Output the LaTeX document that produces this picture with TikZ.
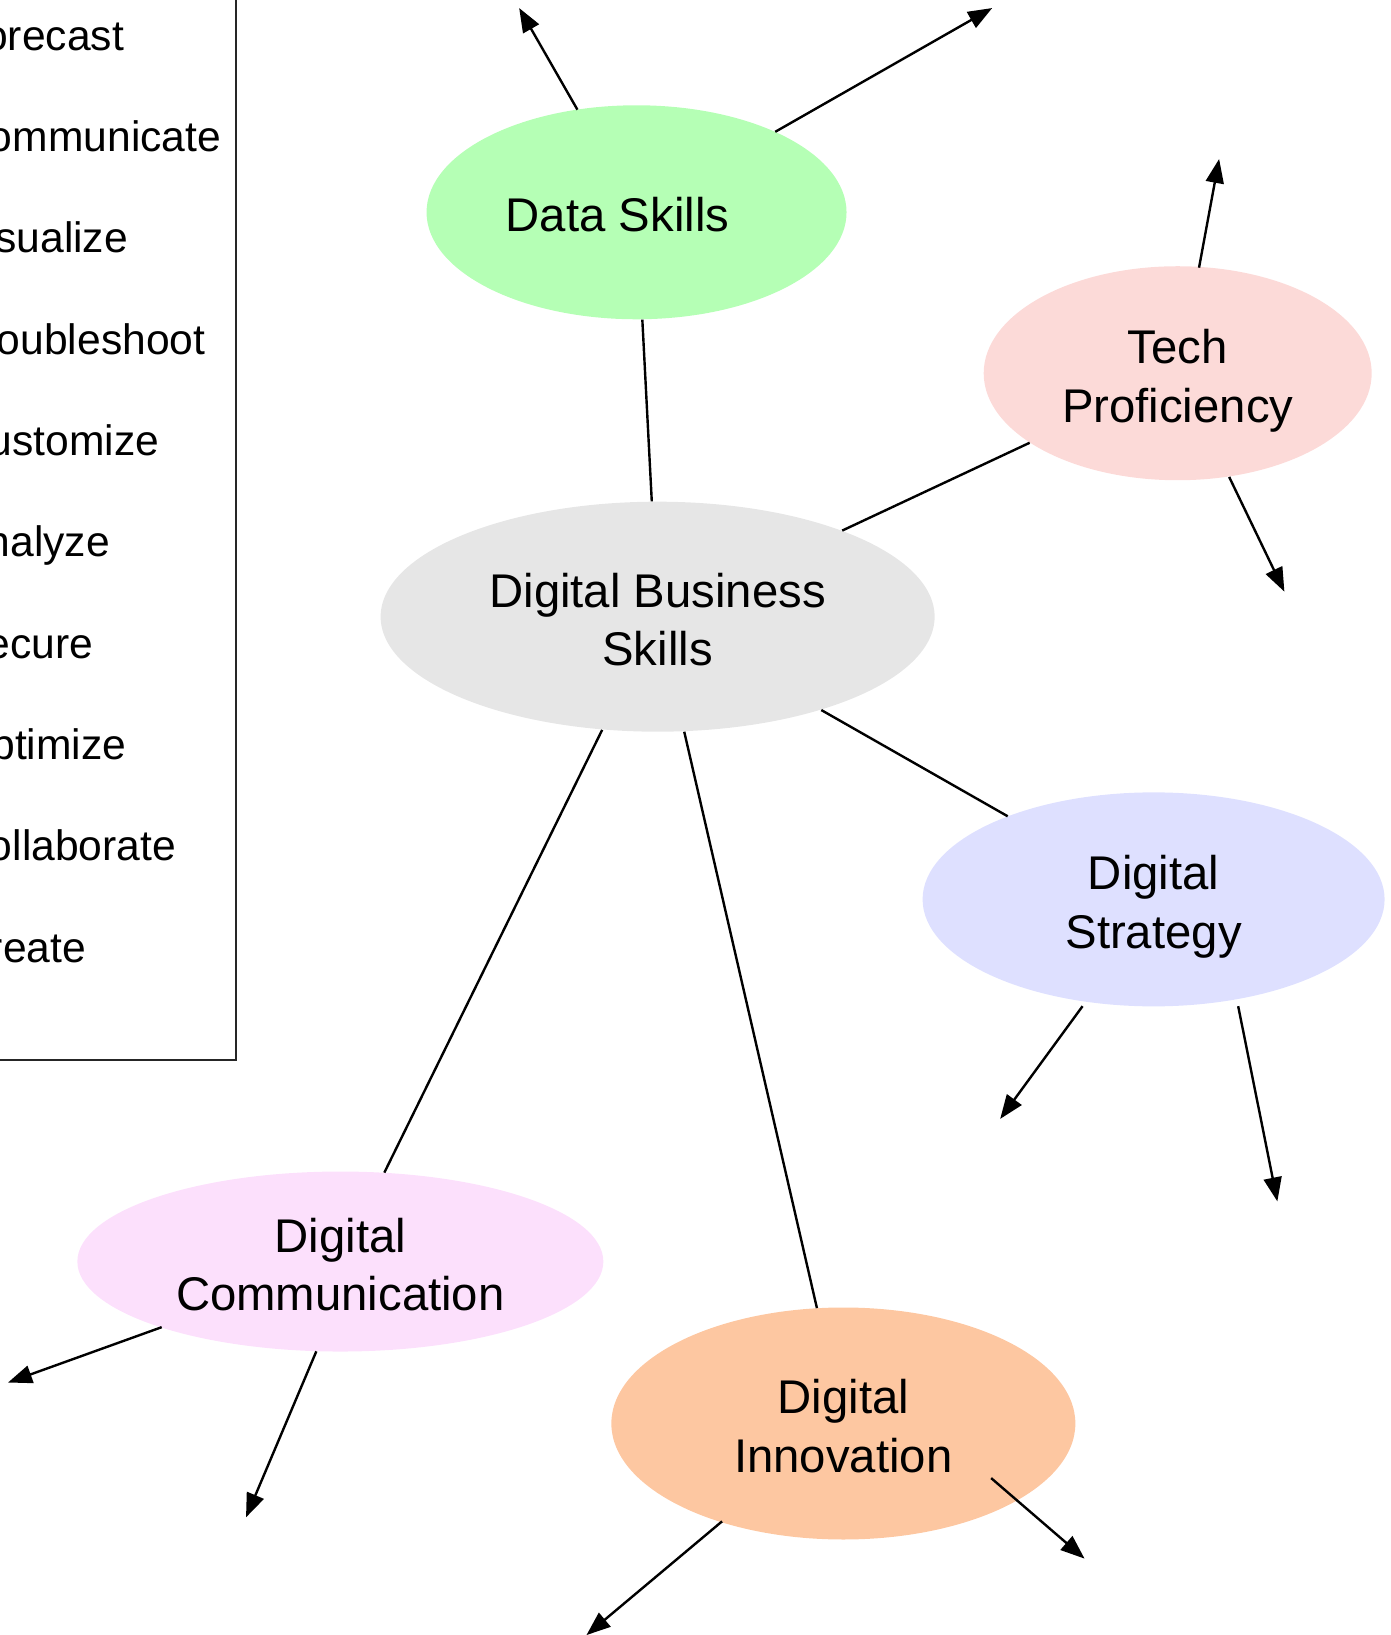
\documentclass[tikz,border=0pt]{standalone}
\usepackage{fontspec}
\setmainfont{Liberation Sans}
\usetikzlibrary{shapes.geometric,arrows.meta}
\definecolor{cData}{HTML}{B5FFB5}
\definecolor{cTech}{HTML}{FCDAD8}
\definecolor{cDBS}{HTML}{E6E6E6}
\definecolor{cStrat}{HTML}{DEE0FF}
\definecolor{cComm}{HTML}{FCE0FC}
\definecolor{cInnov}{HTML}{FDC7A1}
\newcommand{\blabel}[1]{\raisebox{-4pt}[\height][\depth]{\begin{tabular}{@{}c@{}}#1\end{tabular}}}
\tikzset{
  bubble/.style={ellipse, draw=none, inner sep=0pt,
    font=\fontsize{23.65pt}{29.2pt}\selectfont},
  legtext/.style={anchor=base west, inner sep=0pt, font=\fontsize{21.3pt}{25pt}\selectfont},
  legbox/.style={draw=black!85, line width=1pt},
  link/.style={line width=1.2pt},
  arr/.style={line width=1.2pt, -{Triangle[length=12pt,width=9pt]}}
}
\begin{document}
\begin{tikzpicture}[x=0.5pt,y=-0.5pt]
\useasboundingbox (0,0) rectangle (1391,1635);
\clip (0,0) rectangle (1391,1635);
\begin{scope}[xscale=1.004, yscale=1.006]
% legend
\draw[legbox] (-20,-20) rectangle (235,1054);
\foreach \w [count=\i from 0] in {Forecast,Communicate,Visualize,Troubleshoot,Customize,Analyze,Secure,Optimize,Collaborate,Create}
  \node[legtext] (leg\i) at (-42,{50+100.7*\i}) {\w};
% nodes
\node[bubble, fill=cData, minimum width=210pt, minimum height=107pt] (data) at (634,211) {\blabel{Data Skills\hspace*{19pt}}};
\node[bubble, fill=cTech, minimum width=194pt, minimum height=107pt] (tech) at (1173,371) {\blabel{Tech\\Proficiency}};
\node[bubble, fill=cDBS, minimum width=277pt, minimum height=115pt] (dbs) at (655,613) {\blabel{Digital Business\\Skills}};
\node[bubble, fill=cStrat, minimum width=231pt, minimum height=107pt] (strat) at (1149,894) {\blabel{Digital\\Strategy}};
\node[bubble, fill=cComm, minimum width=263pt, minimum height=90pt] (comm) at (339,1254) {\blabel{Digital\\Communication}};
\node[bubble, fill=cInnov, minimum width=232pt, minimum height=116pt] (innov) at (840,1415) {\blabel{Digital\\Innovation}};
% links
\draw[link] (data) -- (dbs);
\draw[link] (dbs) -- (tech);
\draw[link] (dbs) -- (strat);
\draw[link] (dbs) -- (comm);
\draw[link] (dbs) -- (innov);
% free arrow ends
\coordinate (d1s) at (575,109);  \coordinate (d1e) at (517,8);
\coordinate (d2s) at (772,131);  \coordinate (d2e) at (988,8);
\coordinate (t1s) at (1194,266); \coordinate (t1e) at (1214,158);
\coordinate (t2s) at (1224,474); \coordinate (t2e) at (1279,588);
\coordinate (s1s) at (1078,1000); \coordinate (s1e) at (996,1112);
\coordinate (s2s) at (1233,1000); \coordinate (s2e) at (1272,1194);
\coordinate (c1s) at (161,1319); \coordinate (c1e) at (8,1374);
\coordinate (c2s) at (315,1343); \coordinate (c2e) at (245,1508);
\coordinate (i1s) at (719,1512); \coordinate (i1e) at (584,1625);
\coordinate (i2s) at (987,1469); \coordinate (i2e) at (1080,1549);
\foreach \a in {d1,d2,t1,t2,s1,s2,c1,c2,i1,i2}
  \draw[arr] (\a s) -- (\a e);
\end{scope}
\end{tikzpicture}
\end{document}
